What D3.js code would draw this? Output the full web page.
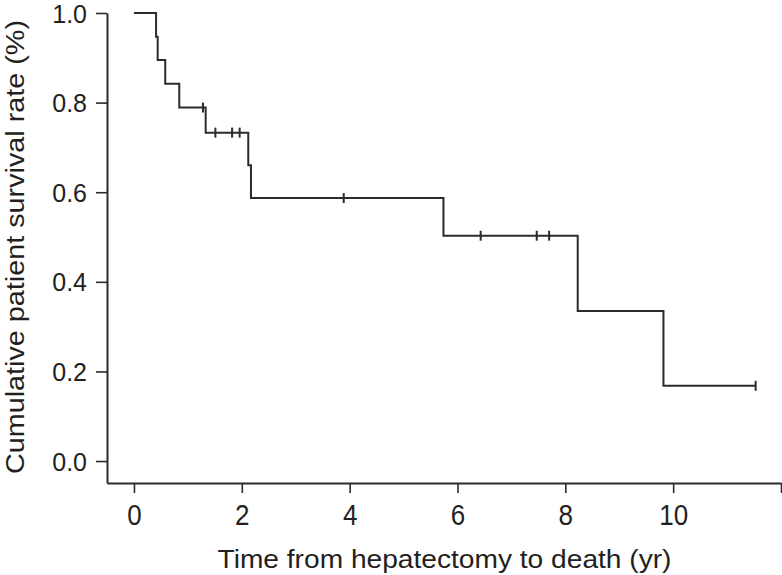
<!DOCTYPE html>
<html>
<head>
<meta charset="utf-8">
<script src="https://cdn.jsdelivr.net/npm/d3@7"></script>
<style>
  html, body { margin: 0; padding: 0; background: #fff; }
  svg { display: block; }
  text { font-family: "Liberation Sans", Arial, Helvetica, sans-serif; fill: #231f20; }
</style>
</head>
<body>
<svg id="chart" width="782" height="575"></svg>
<script>
// Kaplan-Meier step data (time in years, survival proportion)
const stepTimes = [0, 0.41, 0.44, 0.58, 0.84, 1.33, 2.12, 2.17, 5.74, 8.23, 9.82];
const survival  = [1.0, 0.947, 0.895, 0.842, 0.789, 0.733, 0.660, 0.587, 0.503, 0.335, 0.168];
const endTime = 11.53;
const censorTimes = [1.28, 1.51, 1.82, 1.96, 3.89, 6.43, 7.47, 7.70, 11.53];
const xTicks = [0, 2, 4, 6, 8, 10, 12];
const xTickLabels = ["0", "2", "4", "6", "8", "10", ""];
const yTicks = [0, 0.2, 0.4, 0.6, 0.8, 1.0];
const yTickLabels = ["0.0", "0.2", "0.4", "0.6", "0.8", "1.0"];
const xTitle = "Time from hepatectomy to death (yr)";
const yTitle = "Cumulative patient survival rate (%)";

const svg = d3.select("#chart");
const ink = "#2b2b2b";

const x = d3.scaleLinear().domain([-0.5, 12]).range([107, 781]);
const y = d3.scaleLinear().domain([-0.049, 1]).range([483, 13]);

// Axes
const xAxis = d3.axisBottom(x).tickValues(xTicks)
  .tickFormat((d, i) => xTickLabels[i]).tickSizeInner(10).tickSizeOuter(0).tickPadding(10);
const yAxis = d3.axisLeft(y).tickValues(yTicks)
  .tickFormat((d, i) => yTickLabels[i]).tickSizeInner(11).tickSizeOuter(0).tickPadding(9);

const gx = svg.append("g").attr("transform", `translate(0,${y.range()[0]})`).call(xAxis);
const gy = svg.append("g").attr("transform", `translate(${x.range()[0]},0)`).call(yAxis);

[gx, gy].forEach(g => {
  g.select(".domain").attr("stroke", ink).attr("stroke-width", 2);
  g.selectAll(".tick line").attr("stroke", ink).attr("stroke-width", 1.6);
  g.selectAll(".tick text").attr("fill", "#231f20")
    .style("font-family", '"Liberation Sans", Arial, sans-serif');
});
gy.selectAll(".tick text").attr("font-size", 25).attr("dy", "0.36em");
gx.selectAll(".tick text").attr("font-size", 26)
  .attr("y", 36.3).attr("dy", 0)
  .attr("transform", "scale(1,1.15)");

// Step path
const pts = [];
stepTimes.forEach((t, i) => {
  if (i > 0) pts.push([t, survival[i - 1]]);
  pts.push([t, survival[i]]);
});
pts.push([endTime, survival[survival.length - 1]]);

const line = d3.line().x(d => x(d[0])).y(d => y(d[1]));
svg.append("path").datum(pts)
  .attr("d", line)
  .attr("fill", "none")
  .attr("stroke", ink)
  .attr("stroke-width", 2)
  .attr("stroke-linejoin", "miter");

// Censor marks
function survAt(t) {
  let s = survival[0];
  stepTimes.forEach((st, i) => { if (st <= t) s = survival[i]; });
  return s;
}
svg.append("g").selectAll("line").data(censorTimes).join("line")
  .attr("x1", d => x(d)).attr("x2", d => x(d))
  .attr("y1", d => y(survAt(d)) - 5).attr("y2", d => y(survAt(d)) + 5)
  .attr("stroke", ink).attr("stroke-width", 2);

// Titles
svg.append("text")
  .attr("x", 444.5).attr("y", 567.5)
  .attr("text-anchor", "middle")
  .attr("font-size", 26)
  .attr("textLength", 454).attr("lengthAdjust", "spacingAndGlyphs")
  .text(xTitle);

svg.append("text")
  .attr("transform", "translate(24,247) rotate(-90)")
  .attr("text-anchor", "middle")
  .attr("font-size", 26.5)
  .attr("textLength", 454).attr("lengthAdjust", "spacingAndGlyphs")
  .text(yTitle);
</script>
</body>
</html>
